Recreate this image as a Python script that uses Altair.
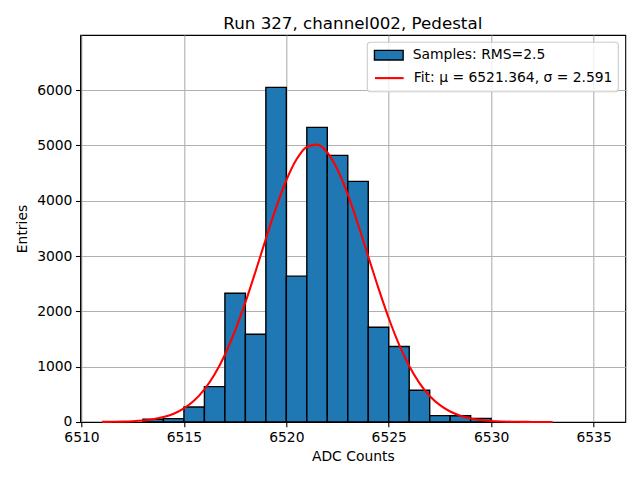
import altair as alt
import pandas as pd

# Histogram bins (left edges, width 1) and counts
bin_left = [6513, 6514, 6515, 6516, 6517, 6518, 6519, 6520, 6521, 6522,
            6523, 6524, 6525, 6526, 6527, 6528, 6529]
counts = [49, 61, 271, 640, 2327, 1586, 6049, 2636, 5326, 4819,
          4349, 1713, 1364, 573, 115, 112, 65]
bin_width = 1

# Fit curve points
fit_x = [6511, 6511.5, 6512, 6512.5, 6513, 6513.5, 6514, 6514.5, 6515, 6515.5,
         6516, 6516.5, 6517, 6517.5, 6518, 6518.5, 6519, 6519.5, 6520, 6520.5,
         6521, 6521.5, 6522, 6522.5, 6523, 6523.5, 6524, 6524.5, 6525, 6525.5,
         6526, 6526.5, 6527, 6527.5, 6528, 6528.5, 6529, 6529.5, 6530, 6530.5,
         6531, 6531.5, 6532, 6532.5, 6533]
fit_y = [1.7, 3.6, 7.3, 14.4, 27.4, 50.2, 88.4, 150, 246, 387,
         589, 862, 1216, 1651, 2161, 2725, 3311, 3875, 4370, 4748,
         4971, 5013, 4871, 4560, 4113, 3574, 2992, 2414, 1875, 1404,
         1013, 704, 471, 304, 189, 113, 65, 36, 19, 10,
         5, 2.4, 1.1, 0.5, 0.2]

x_ticks = [6510, 6515, 6520, 6525, 6530, 6535]
y_ticks = [0, 1000, 2000, 3000, 4000, 5000, 6000]

label_hist = "Samples: RMS=2.5"
label_fit = "Fit: μ = 6521.364, σ = 2.591"
title_text = "Run 327, channel002, Pedestal"

hist_df = pd.DataFrame({
    "left": bin_left,
    "right": [b + bin_width for b in bin_left],
    "count": counts,
    "base": [0] * len(bin_left),
    "series": [label_hist] * len(bin_left),
})
fit_df = pd.DataFrame({"x": fit_x, "y": fit_y, "series": [label_fit] * len(fit_x)})

FONT = "DejaVu Sans"
x_scale = alt.Scale(domain=[6509.94, 6536.55], nice=False, zero=False)
y_scale = alt.Scale(domain=[0, 6995], nice=False)

common_legend = dict(
    title=None,
    orient="none",
    padding=0,
    labelFont=FONT,
    labelFontSize=13.9,
    labelColor="black",
    labelOffset=16,
    symbolOffset=0,
    symbolSize=196,
    labelLimit=400,
)

x_axis = alt.Axis(values=x_ticks, format="d", title="ADC Counts")
y_axis = alt.Axis(values=y_ticks, format="d", title="Entries", titlePadding=7)

bars = alt.Chart(hist_df).mark_rect(stroke="black", strokeWidth=1.39, opacity=1).encode(
    x=alt.X("left:Q", scale=x_scale, axis=x_axis),
    x2="right:Q",
    y=alt.Y("count:Q", scale=y_scale, axis=y_axis),
    y2="base:Q",
    fill=alt.Fill(
        "series:N",
        scale=alt.Scale(domain=[label_hist], range=["#1f77b4"]),
        legend=alt.Legend(
            legendX=300.5, legendY=12.2,
            symbolType="M-2.05,-0.69H2.05V0.69H-2.05Z",
            symbolStrokeColor="black", symbolStrokeWidth=1.39,
            symbolFillColor="#1f77b4", symbolOpacity=1,
            **common_legend,
        ),
    ),
)

line = alt.Chart(fit_df).mark_line(strokeWidth=2.08, interpolate="monotone").encode(
    x=alt.X("x:Q", scale=x_scale),
    y=alt.Y("y:Q", scale=y_scale),
    stroke=alt.Stroke(
        "series:N",
        scale=alt.Scale(domain=[label_fit], range=["red"]),
        legend=alt.Legend(
            legendX=300.5, legendY=34.6,
            symbolType="M-2.05,0H2.05",
            symbolStrokeWidth=2.08,
            **common_legend,
        ),
    ),
)

# legend frame (decoration)
frame = alt.Chart(pd.DataFrame({"k": [0]})).mark_rect(
    fill="white", fillOpacity=0.8, stroke="#cccccc", strokeWidth=1.1, cornerRadius=3
).encode(
    x=alt.value(287), x2=alt.value(538), y=alt.value(7.3), y2=alt.value(56.7)
)

chart = alt.layer(bars, line, frame).resolve_scale(fill="independent", stroke="independent").properties(
    width=545,
    height=387,
    title=alt.TitleParams(title_text, font=FONT, fontSize=16.7, fontWeight="normal",
                          color="black", anchor="middle", offset=8.3, baseline="alphabetic",
                          dy=19),
    autosize=alt.AutoSizeParams(type="none"),
    padding={"left": 72.3, "top": 27, "right": 6, "bottom": 50},
).configure_view(
    stroke="black", strokeWidth=1.1
).configure_axis(
    labelFont=FONT, labelFontSize=13.9, labelColor="black",
    titleFont=FONT, titleFontSize=13.9, titleFontWeight="normal", titleColor="black",
    tickSize=4.86, tickWidth=1.1, tickColor="black",
    domainColor="black", domainWidth=1.1,
    grid=True, gridColor="#b0b0b0", gridWidth=1.1,
    labelPadding=3.5, titlePadding=5,
)

chart.save("out.html", embed_options={"renderer": "svg", "actions": False})
